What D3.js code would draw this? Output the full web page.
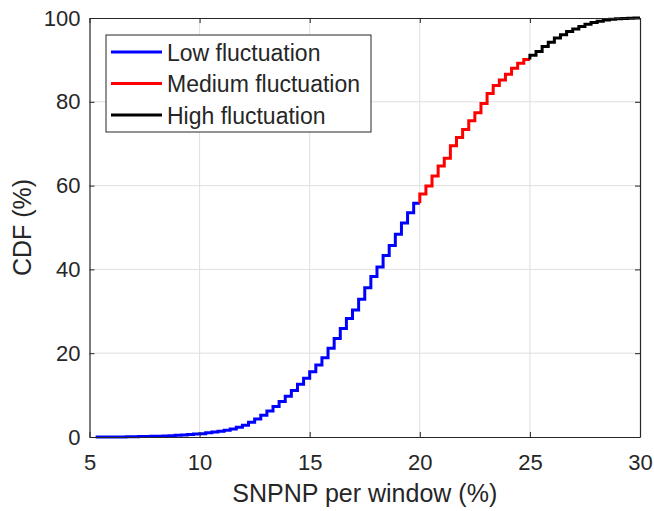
<!DOCTYPE html>
<html>
<head>
<meta charset="utf-8">
<script src="https://cdn.jsdelivr.net/npm/d3@7"></script>
<style>
  body { margin: 0; background: #fff; }
  text { font-family: "Liberation Sans", Arial, Helvetica, sans-serif; fill: #262626; }
</style>
</head>
<body>
<div id="chart"></div>
<script>
// SNPNP values come in steps of 1/360 of a window (count / 360 * 100 %)
const windowSize = 360;

// CDF (%), one value per step
const lowStart = 19;      // first count of the low segment
const lowCdf = [
  0.0, 0.0, 0.0, 0.0, 0.0, 0.05, 0.05, 0.1, 0.1, 0.15,
  0.2, 0.25, 0.3, 0.4, 0.5, 0.6, 0.7, 0.8, 1.0, 1.2,
  1.4, 1.6, 1.9, 2.3, 2.8, 3.5, 4.3, 5.2, 6.2, 7.3,
  8.5, 9.7, 11.1, 12.6, 14.0, 15.6, 17.2, 18.9, 21.2, 23.5,
  25.9, 28.3, 30.3, 32.9, 35.6, 38.3, 40.6, 43.3, 45.7, 48.4,
  51.1, 53.5, 55.8
];
const mediumStart = 72;   // count where SNPNP = 20 %
const mediumCdf = [
  58.0, 59.9, 62.3, 64.7, 66.5, 69.5, 71.5, 73.4, 75.5, 77.4,
  79.6, 82.0, 83.9, 85.2, 86.6, 88.0, 89.2, 90.1
];
const highStart = 90;     // count where SNPNP = 25 %
const highCdf = [
  91.1, 92.0, 93.2, 94.2, 95.2, 96.0, 96.8, 97.4, 98.0, 98.5,
  98.9, 99.2, 99.5, 99.7, 99.8, 99.9, 99.95, 100, 100
];

const seriesNames = ['Low fluctuation', 'Medium fluctuation', 'High fluctuation'];
const seriesColors = ['#0000ff', '#ff0000', '#000000'];
const xTicks = [5, 10, 15, 20, 25, 30];
const yTicks = [0, 20, 40, 60, 80, 100];

const config_size = {
  svg_width: 654,
  svg_height: 511,
  plot_margin: { left: 89.5, right: 14, top: 18, bottom: 74 },
};

const svg = d3.select('#chart').append('svg')
  .attr('width', config_size.svg_width)
  .attr('height', config_size.svg_height);

const plot_width = config_size.svg_width - config_size.plot_margin.left - config_size.plot_margin.right;
const plot_height = config_size.svg_height - config_size.plot_margin.top - config_size.plot_margin.bottom;

const plot_g = svg.append('g')
  .attr('transform', `translate(${config_size.plot_margin.left},${config_size.plot_margin.top})`);

const x = d3.scaleLinear().domain([5, 30]).range([0, plot_width]);
const y = d3.scaleLinear().domain([0, 100]).range([plot_height, 0]);

// grid
plot_g.append('g').selectAll('line').data(xTicks.slice(1, -1)).join('line')
  .attr('x1', d => x(d)).attr('x2', d => x(d))
  .attr('y1', 0).attr('y2', plot_height)
  .attr('stroke', '#dfdfdf').attr('stroke-width', 1);
plot_g.append('g').selectAll('line').data(yTicks.slice(1, -1)).join('line')
  .attr('y1', d => y(d)).attr('y2', d => y(d))
  .attr('x1', 0).attr('x2', plot_width)
  .attr('stroke', '#dfdfdf').attr('stroke-width', 1);

// turn counts into step points for each segment
function toPoints(start, cdf, prevValue) {
  const pts = [];
  if (prevValue !== undefined) pts.push({ v: start * 100 / windowSize, c: prevValue });
  cdf.forEach((c, i) => pts.push({ v: (start + i) * 100 / windowSize, c: c }));
  return pts;
}
const lowPts = toPoints(lowStart, lowCdf);
lowPts.push({ v: mediumStart * 100 / windowSize, c: lowCdf[lowCdf.length - 1] });
const medPts = toPoints(mediumStart, mediumCdf, lowCdf[lowCdf.length - 1]);
medPts.push({ v: highStart * 100 / windowSize, c: mediumCdf[mediumCdf.length - 1] });
const highPts = toPoints(highStart, highCdf, mediumCdf[mediumCdf.length - 1]);

const stepLine = d3.line()
  .x(d => x(d.v))
  .y(d => y(d.c))
  .curve(d3.curveStepAfter);

[lowPts, medPts, highPts].forEach((pts, i) => {
  plot_g.append('path')
    .datum(pts)
    .attr('fill', 'none')
    .attr('stroke', seriesColors[i])
    .attr('stroke-width', 3)
    .attr('d', stepLine);
});

// axes (MATLAB style: ticks inside, box on)
const axisColor = '#262626';
const xAxis = plot_g.append('g')
  .attr('transform', `translate(0,${plot_height})`)
  .call(d3.axisBottom(x).tickValues(xTicks).tickSize(-5).tickPadding(17).tickSizeOuter(0));
const yAxis = plot_g.append('g')
  .call(d3.axisLeft(y).tickValues(yTicks).tickSize(-5).tickPadding(9).tickSizeOuter(0));
plot_g.append('g')
  .call(d3.axisTop(x).tickValues(xTicks).tickSize(-5).tickFormat('').tickSizeOuter(0));
plot_g.append('g')
  .attr('transform', `translate(${plot_width},0)`)
  .call(d3.axisRight(y).tickValues(yTicks).tickSize(-5).tickFormat('').tickSizeOuter(0));

plot_g.selectAll('.domain').attr('stroke', axisColor).attr('stroke-width', 1.2);
plot_g.selectAll('.tick line').attr('stroke', axisColor).attr('stroke-width', 1);
[xAxis, yAxis].forEach(a => a.selectAll('.tick text')
  .style('font-size', '22px')
  .style('font-family', '"Liberation Sans", Arial, sans-serif')
  .attr('fill', axisColor));

// axis labels
svg.append('text')
  .attr('x', config_size.plot_margin.left + plot_width / 2)
  .attr('y', 502)
  .attr('text-anchor', 'middle')
  .style('font-size', '25px')
  .text('SNPNP per window (%)');
svg.append('text')
  .attr('transform', `translate(31,${config_size.plot_margin.top + plot_height / 2}) rotate(-90)`)
  .attr('text-anchor', 'middle')
  .style('font-size', '25px')
  .text('CDF (%)');

// legend
const legend = svg.append('g');
legend.append('rect')
  .attr('x', 106).attr('y', 35)
  .attr('width', 265).attr('height', 97)
  .attr('fill', '#fff')
  .attr('stroke', axisColor).attr('stroke-width', 1);
seriesNames.forEach((name, i) => {
  const cy = 52 + i * 31.5;
  legend.append('line')
    .attr('x1', 111).attr('x2', 162)
    .attr('y1', cy).attr('y2', cy)
    .attr('stroke', seriesColors[i]).attr('stroke-width', 3);
  legend.append('text')
    .attr('x', 167).attr('y', cy + 8.5)
    .style('font-size', '23px')
    .attr('fill', '#000')
    .text(name);
});
</script>
</body>
</html>
